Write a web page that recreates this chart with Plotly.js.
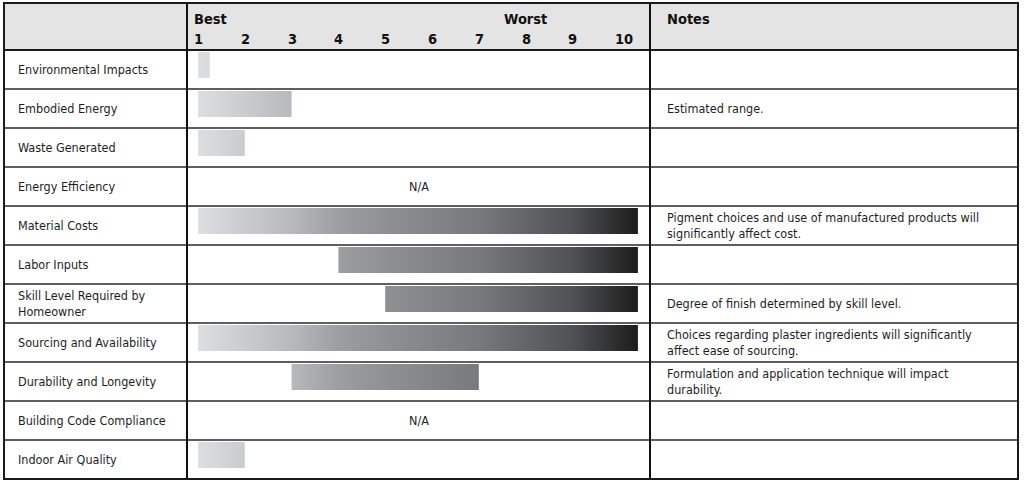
<!DOCTYPE html>
<html>
<head>
<meta charset="utf-8">
<script src="https://cdn.plot.ly/plotly-3.0.1.min.js"></script>
<style>
  html, body { margin: 0; padding: 0; background: #ffffff; }
  #chart { width: 1024px; height: 485px; }
</style>
</head>
<body>
<div id="chart"></div>
<script>
// ---- data ----
const criteria = [
  'Environmental Impacts',
  'Embodied Energy',
  'Waste Generated',
  'Energy Efficiency',
  'Material Costs',
  'Labor Inputs',
  'Skill Level Required by<br>Homeowner',
  'Sourcing and Availability',
  'Durability and Longevity',
  'Building Code Compliance',
  'Indoor Air Quality'
];
const ratingLow  = [1, 1, 1, null, 1, 4, 5, 1, 3, null, 1];
const ratingHigh = [1.25, 3, 2, null, 10.4, 10.4, 10.4, 10.4, 7, null, 2];
const notes = [
  '',
  'Estimated range.',
  '',
  '',
  'Pigment choices and use of manufactured products will<br>significantly affect cost.',
  '',
  'Degree of finish determined by skill level.',
  'Choices regarding plaster ingredients will significantly<br>affect ease of sourcing.',
  'Formulation and application technique will impact<br>durability.',
  '',
  ''
];
const scaleTicks = [1, 2, 3, 4, 5, 6, 7, 8, 9, 10];
const bestLabel = 'Best';
const worstLabel = 'Worst';
const notesHeader = 'Notes';
const naLabel = 'N/A';

// ---- layout helpers (pixel -> paper) ----
const W = 1024, H = 485;
const px = x => x / W;
const py = y => 1 - y / H;
const FONT = '"Liberation Sans Narrow", "DejaVu Sans Condensed", "Arial Narrow", sans-serif';
const tableL = 4, tableR = 1018, tableT = 3, headB = 50, tableB = 479;
const col1 = 187, col2 = 650;
const nRows = criteria.length;
const rowH = (tableB - headB) / nRows;
const unitPx = 46.8, onePx = 198;
const xMin = 1 + (col1 - onePx) / unitPx;
const xMax = 1 + (col2 - onePx) / unitPx;
const barTop = 2 / rowH, barBot = 28 / rowH;
const gradStart = 1, gradStop = 10.4;
const gradScale = [
  [0, '#dddee0'], [0.213, '#b8b9bc'], [0.319, '#9d9ea1'], [0.426, '#8f9093'],
  [0.638, '#78797c'], [0.85, '#505154'], [1, '#1c1c1c']
];

const traces = [];
criteria.forEach((c, i) => {
  if (ratingLow[i] === null) return;
  const a = ratingLow[i], b = ratingHigh[i];
  traces.push({
    type: 'scatter', mode: 'lines',
    x: [a, b, b, a, a],
    y: [i + barTop, i + barTop, i + barBot, i + barBot, i + barTop],
    fill: 'toself',
    line: { width: 0, color: 'rgba(0,0,0,0)' },
    fillgradient: { type: 'horizontal', start: gradStart, stop: gradStop, colorscale: gradScale },
    hoverinfo: 'skip', showlegend: false
  });
});

const shapes = [];
shapes.push({ type: 'rect', xref: 'paper', yref: 'paper', layer: 'below',
  x0: px(tableL), x1: px(tableR), y0: py(headB), y1: py(tableT),
  fillcolor: '#e4e4e4', line: { width: 0 } });
for (let r = 1; r < nRows; r++) {
  const y = headB + r * rowH;
  shapes.push({ type: 'line', xref: 'paper', yref: 'paper',
    x0: px(tableL), x1: px(tableR), y0: py(y), y1: py(y),
    line: { color: '#2a2a2a', width: 1.5 } });
}
shapes.push({ type: 'line', xref: 'paper', yref: 'paper',
  x0: px(tableL), x1: px(tableR), y0: py(headB), y1: py(headB),
  line: { color: '#1a1a1a', width: 2 } });
[col1, col2].forEach(x => shapes.push({ type: 'line', xref: 'paper', yref: 'paper',
  x0: px(x), x1: px(x), y0: py(tableT), y1: py(tableB),
  line: { color: '#111111', width: 2 } }));
shapes.push({ type: 'rect', xref: 'paper', yref: 'paper',
  x0: px(tableL), x1: px(tableR), y0: py(tableB), y1: py(tableT),
  line: { color: '#1a1a1a', width: 2 } });

const annotations = [];
const bodyFont = { family: FONT, size: 12.5, color: '#1e1e1e' };
const headFont = { family: FONT, size: 14.5, color: '#111111', weight: 'bold' };
criteria.forEach((c, i) => {
  annotations.push({ text: c, xref: 'paper', yref: 'y', x: px(16), y: i + 0.5,
    xanchor: 'left', yanchor: 'middle', align: 'left', showarrow: false, font: bodyFont });
  if (notes[i]) {
    annotations.push({ text: notes[i], xref: 'paper', yref: 'y', x: px(665), y: i + 0.5,
      xanchor: 'left', yanchor: 'middle', align: 'left', showarrow: false, font: bodyFont });
  }
  if (ratingLow[i] === null) {
    annotations.push({ text: naLabel, xref: 'paper', yref: 'y', x: px((col1 + col2) / 2), y: i + 0.5,
      xanchor: 'center', yanchor: 'middle', showarrow: false, font: bodyFont });
  }
});
scaleTicks.forEach(t => {
  annotations.push({ text: String(t), xref: 'x', yref: 'paper', x: t, y: py(39),
    xanchor: 'left', xshift: -6, yanchor: 'middle', showarrow: false, font: headFont });
});
annotations.push({ text: bestLabel, xref: 'x', yref: 'paper', x: 1, y: py(19),
  xanchor: 'left', xshift: -6, yanchor: 'middle', showarrow: false, font: headFont });
annotations.push({ text: worstLabel, xref: 'x', yref: 'paper', x: 8, y: py(19),
  xanchor: 'center', yanchor: 'middle', showarrow: false, font: headFont });
annotations.push({ text: notesHeader, xref: 'paper', yref: 'paper', x: px(665), y: py(19),
  xanchor: 'left', yanchor: 'middle', showarrow: false, font: headFont });

const layout = {
  width: W, height: H,
  margin: { l: 0, r: 0, t: 0, b: 0, pad: 0 },
  paper_bgcolor: '#ffffff', plot_bgcolor: 'rgba(0,0,0,0)',
  showlegend: false,
  xaxis: { domain: [px(col1), px(col2)], range: [xMin, xMax], visible: false, fixedrange: true },
  yaxis: { domain: [py(tableB), py(headB)], range: [nRows, 0], visible: false, fixedrange: true },
  shapes: shapes,
  annotations: annotations,
  font: { family: FONT }
};

Plotly.newPlot('chart', traces, layout, { displayModeBar: false, staticPlot: true });
</script>
</body>
</html>
